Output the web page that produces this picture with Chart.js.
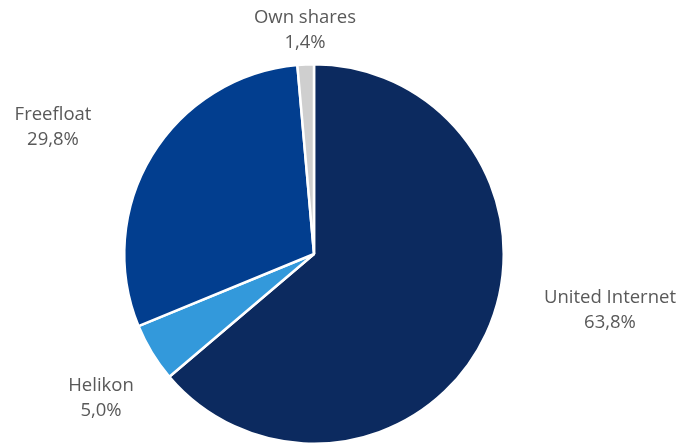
<!DOCTYPE html>
<html>
<head>
<meta charset="utf-8">
<script src="https://cdn.jsdelivr.net/npm/chart.js@4/dist/chart.umd.min.js"></script>
<style>
html,body{margin:0;padding:0;background:#fff;}
#wrap{width:680px;height:445px;position:relative;}
</style>
</head>
<body>
<div id="wrap"><canvas id="c"></canvas></div>
<script>
const categories = ['United Internet', 'Helikon', 'Freefloat', 'Own shares'];
const shares = [63.8, 5.0, 29.8, 1.4];
const valueLabels = ['63,8%', '5,0%', '29,8%', '1,4%'];
const colors = ['#0c2a5f', '#3399db', '#023e8f', '#cfcfcf'];

// label centre offsets from pie centre (px), per slice
const labelOffsets = [[296, 56], [-213, 144], [-261, -127], [-9, -224]];

const labelPlugin = {
  id: 'outLabels',
  afterDatasetsDraw(chart) {
    const ctx = chart.ctx;
    const meta = chart.getDatasetMeta(0);
    ctx.save();
    ctx.font = '18.5px "Open Sans"';
    ctx.fillStyle = '#595959';
    ctx.textAlign = 'center';
    ctx.textBaseline = 'middle';
    meta.data.forEach((arc, i) => {
      const cx = arc.x + labelOffsets[i][0];
      const cy = arc.y + labelOffsets[i][1];
      ctx.fillText(categories[i], cx, cy - 12.5);
      ctx.fillText(valueLabels[i], cx, cy + 12.5);
    });
    ctx.restore();
  }
};

new Chart(document.getElementById('c'), {
  type: 'pie',
  data: {
    labels: categories,
    datasets: [{
      data: shares,
      backgroundColor: colors,
      borderColor: '#ffffff',
      borderWidth: 2.5
    }]
  },
  options: {
    responsive: true,
    maintainAspectRatio: false,
    animation: false,
    layout: { padding: { top: 63, bottom: 0, left: 0, right: 52 } },
    plugins: { legend: { display: false }, tooltip: { enabled: false } }
  },
  plugins: [labelPlugin]
});
</script>
</body>
</html>
